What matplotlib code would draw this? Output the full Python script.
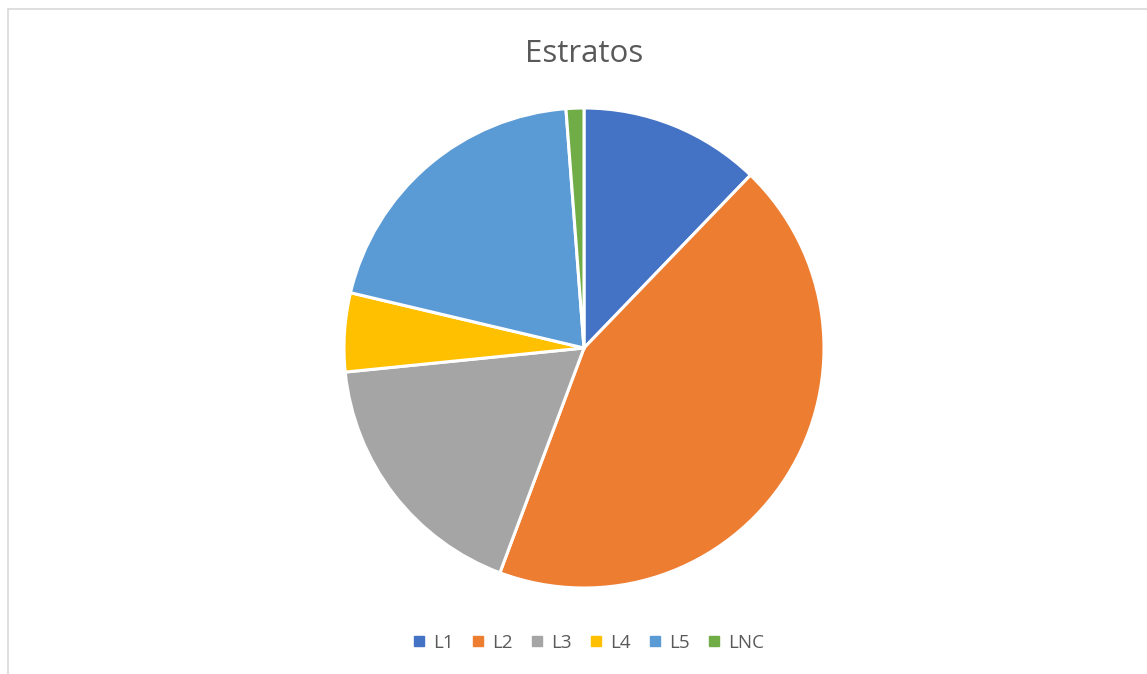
import matplotlib.pyplot as plt
from matplotlib.lines import Line2D

# data (percent of the whole)
labels = ['L1', 'L2', 'L3', 'L4', 'L5', 'LNC']
shares = [12.2, 43.5, 17.7, 5.3, 20.1, 1.2]
colors = ['#4472C4', '#ED7D31', '#A5A5A5', '#FFC000', '#5B9BD5', '#70AD47']

W, H = 1147, 674
fig = plt.figure(figsize=(W / 100, H / 100), dpi=100)
fig.patch.set_facecolor('white')

# pie axes: centre ~(584, 348) px, radius ~240 px
cx, cy, r = 584, 348, 240
ax = fig.add_axes([(cx - r) / W, (H - cy - r) / H, 2 * r / W, 2 * r / H])
ax.pie(shares, colors=colors, startangle=90, counterclock=False,
       wedgeprops=dict(edgecolor='white', linewidth=2.2))
ax.set_xlim(-1, 1)
ax.set_ylim(-1, 1)
ax.set_aspect('equal')
ax.axis('off')

fig.text(584 / W, 1 - 54 / H, 'Estratos', ha='center', va='center',
         fontsize=22.5, color='#595959', family='Open Sans')

handles = [Line2D([], [], marker='s', linestyle='none', markersize=6.5,
                  markerfacecolor=c, markeredgecolor=c) for c in colors]
leg = fig.legend(handles, labels, loc='center', bbox_to_anchor=(589 / W, 1 - 643 / H),
                 ncol=6, frameon=False, handlelength=0.55, handletextpad=0.45,
                 columnspacing=1.05, prop={'family': 'Open Sans', 'size': 13.5})
for t in leg.get_texts():
    t.set_color('#595959')

# chart area border (top and left edges visible)
fig.add_artist(Line2D([8 / W, 1], [1 - 9 / H, 1 - 9 / H], color='#D9D9D9', lw=1.2))
fig.add_artist(Line2D([8 / W, 8 / W], [0, 1 - 9 / H], color='#D9D9D9', lw=1.2))

fig.savefig('out.png', dpi=100)
